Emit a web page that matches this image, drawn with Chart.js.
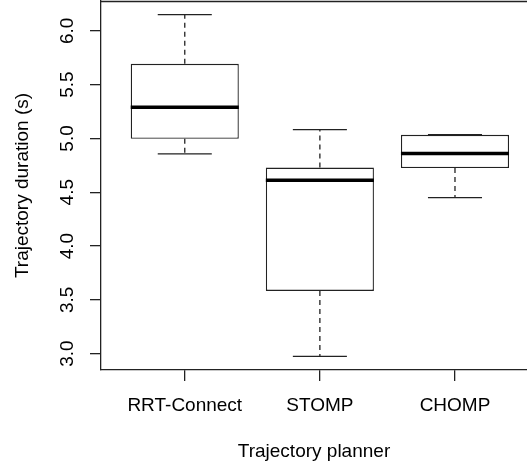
<!DOCTYPE html>
<html>
<head>
<meta charset="utf-8">
<script src="https://cdn.jsdelivr.net/npm/chart.js@4/dist/chart.umd.min.js"></script>
<style>
  html, body { margin: 0; padding: 0; background: #ffffff; overflow: hidden; }
  #wrap { width: 527px; height: 468px; }
</style>
</head>
<body>
<div id="wrap"><canvas id="c" width="527" height="468"></canvas></div>
<script>
// ---- data ----
const categories = ["RRT-Connect", "STOMP", "CHOMP"];
const whiskerLow  = [4.857, 2.975, 4.450];
const q1Values    = [4.997, 3.583, 4.724];
const medians     = [5.289, 4.612, 4.860];
const q3Values    = [5.693, 4.729, 5.033];
const whiskerHigh = [6.150, 5.081, 5.035];
const yTicks      = [3.0, 3.5, 4.0, 4.5, 5.0, 5.5, 6.0];
const yTickLabels = ["3.0", "3.5", "4.0", "4.5", "5.0", "5.5", "6.0"];
const xTitle = "Trajectory planner";
const yTitle = "Trajectory duration (s)";

// axis limits like R: data range extended by 4%
const dMin = Math.min(...whiskerLow), dMax = Math.max(...whiskerHigh);
const ext = (dMax - dMin) * 0.04;
const yMin = dMin - ext, yMax = dMax + ext;
const xMin = 0.38, xMax = 3.533;

const FONT = "'Liberation Sans', Arial, Helvetica, sans-serif";
const LINE = '#222222';

const boxPlugin = {
  id: 'boxParts',
  afterDatasetsDraw(chart) {
    const ctx = chart.ctx;
    const xs = chart.scales.x, ys = chart.scales.y;
    const meta = chart.getDatasetMeta(0);
    ctx.save();
    categories.forEach((c, i) => {
      const bar = meta.data[i];
      const cx = xs.getPixelForValue(i + 1);
      const halfBox = bar.width / 2;
      const halfCap = bar.width / 4;
      const pLow = ys.getPixelForValue(whiskerLow[i]);
      const pQ1 = ys.getPixelForValue(q1Values[i]);
      const pMed = ys.getPixelForValue(medians[i]);
      const pQ3 = ys.getPixelForValue(q3Values[i]);
      const pHigh = ys.getPixelForValue(whiskerHigh[i]);
      // dashed whiskers
      ctx.strokeStyle = LINE;
      ctx.lineWidth = 1.3;
      ctx.setLineDash([5, 4]);
      ctx.beginPath();
      ctx.moveTo(cx, pQ3); ctx.lineTo(cx, pHigh);
      ctx.moveTo(cx, pQ1); ctx.lineTo(cx, pLow);
      ctx.stroke();
      // staples
      ctx.setLineDash([]);
      ctx.beginPath();
      ctx.moveTo(cx - halfCap, pHigh); ctx.lineTo(cx + halfCap, pHigh);
      ctx.moveTo(cx - halfCap, pLow); ctx.lineTo(cx + halfCap, pLow);
      ctx.stroke();
      // median
      ctx.strokeStyle = '#000000';
      ctx.lineWidth = 3.5;
      ctx.beginPath();
      ctx.moveTo(cx - halfBox, pMed); ctx.lineTo(cx + halfBox, pMed);
      ctx.stroke();
    });
    ctx.restore();
  },
  afterDraw(chart) {
    const ctx = chart.ctx;
    const a = chart.chartArea;
    const ys = chart.scales.y;
    ctx.save();
    // top frame line
    ctx.strokeStyle = LINE;
    ctx.lineWidth = 1.3;
    ctx.beginPath();
    ctx.moveTo(a.left, a.top + 0.5); ctx.lineTo(a.right, a.top + 0.5);
    ctx.stroke();
    // rotated y tick labels
    ctx.fillStyle = '#000000';
    ctx.font = "19px " + FONT;
    ctx.textAlign = 'center';
    ctx.textBaseline = 'alphabetic';
    ys.ticks.forEach((t, i) => {
      const y = ys.getPixelForValue(t.value);
      ctx.save();
      ctx.translate(73.3, y);
      ctx.rotate(-Math.PI / 2);
      ctx.fillText(yTickLabels[yTicks.indexOf(t.value)], 0, 0);
      ctx.restore();
    });
    ctx.restore();
  }
};

new Chart(document.getElementById('c'), {
  type: 'bar',
  data: {
    datasets: [{
      data: categories.map((c, i) => ({ x: i + 1, y: [q1Values[i], q3Values[i]] })),
      backgroundColor: '#ffffff',
      borderColor: LINE,
      borderWidth: 1.3,
      borderSkipped: false,
      barPercentage: 0.8,
      categoryPercentage: 1.0
    }]
  },
  options: {
    responsive: false,
    devicePixelRatio: 1,
    animation: false,
    events: [],
    layout: { padding: { top: 1, left: 0, right: 0, bottom: 0 } },
    plugins: { legend: { display: false }, tooltip: { enabled: false } },
    scales: {
      x: {
        type: 'linear',
        min: xMin, max: xMax,
        offset: false,
        afterBuildTicks(scale) { scale.ticks = categories.map((c, i) => ({ value: i + 1 })); },
        afterFit(scale) { scale.height = 98; },
        ticks: {
          color: '#000000',
          font: { family: FONT, size: 19 },
          padding: 13.6,
          maxRotation: 0, minRotation: 0,
          autoSkip: false,
          callback: (v) => categories[Math.round(v) - 1]
        },
        grid: { display: true, drawOnChartArea: false, drawTicks: true, tickLength: 11, color: LINE, lineWidth: 1.3, offset: false },
        border: { display: true, color: LINE, width: 1.3 },
        title: {
          display: true, text: xTitle, color: '#000000',
          font: { family: FONT, size: 19 },
          padding: { top: 0, bottom: 4.6 }
        }
      },
      y: {
        type: 'linear',
        min: yMin, max: yMax,
        afterBuildTicks(scale) { scale.ticks = yTicks.map(v => ({ value: v })); },
        afterFit(scale) { scale.width = 101; },
        ticks: { display: false },
        grid: { display: true, drawOnChartArea: false, drawTicks: true, tickLength: 11, color: LINE, lineWidth: 1.3 },
        border: { display: true, color: LINE, width: 1.3 },
        title: {
          display: true, text: yTitle, color: '#000000',
          font: { family: FONT, size: 19 },
          padding: { top: 11, bottom: 0 }
        }
      }
    }
  },
  plugins: [boxPlugin]
});
</script>
</body>
</html>
